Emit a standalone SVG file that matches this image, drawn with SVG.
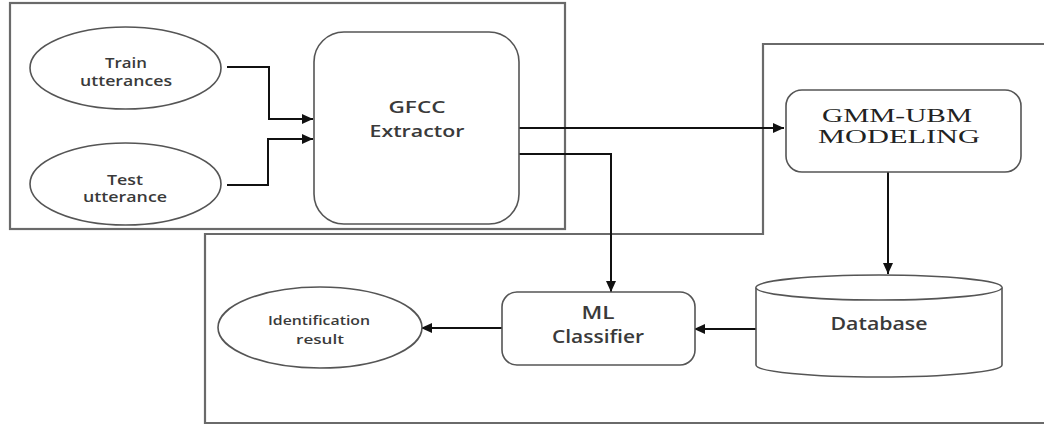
<svg xmlns="http://www.w3.org/2000/svg" width="1044" height="425" viewBox="0 0 1044 425">
<defs>
<style>
.frame{fill:none;stroke:#6a6a6a;stroke-width:2.2}
.shape{fill:#fff;stroke:#555;stroke-width:1.6}
.conn{fill:none;stroke:#111;stroke-width:2}
.t{font-family:"Open Sans","Liberation Sans",sans-serif;font-weight:600;fill:#3a3a3a;text-anchor:middle}
.tr{font-family:"Liberation Serif","Times New Roman",serif;fill:#222;text-anchor:middle}
</style>
<marker id="ah" markerUnits="userSpaceOnUse" markerWidth="12" markerHeight="10" refX="11" refY="5" orient="auto">
<path d="M0,0 L11,5 L0,10 Z" fill="#111"/>
</marker>
</defs>
<rect width="1044" height="425" fill="#fff"/>
<g id="frames">
<rect class="frame" x="10" y="3" width="555" height="226"/>
<polyline class="frame" points="1046,44 763,44 763,234 205,234 205,423 1046,423"/>
</g>
<g id="connectors">
<polyline class="conn" points="227,67 269,67 269,119 313,119" marker-end="url(#ah)"/>
<polyline class="conn" points="227,185 268,185 268,139 313,139" marker-end="url(#ah)"/>
<line class="conn" x1="519" y1="128" x2="784" y2="128" marker-end="url(#ah)"/>
<polyline class="conn" points="519,154 611,154 611,292" marker-end="url(#ah)"/>
<line class="conn" x1="888" y1="172" x2="888" y2="274" marker-end="url(#ah)"/>
<line class="conn" x1="756" y1="329" x2="694" y2="329" marker-end="url(#ah)"/>
<line class="conn" x1="502" y1="328" x2="421" y2="328" marker-end="url(#ah)"/>
</g>
<g id="train">
<ellipse class="shape" cx="125.5" cy="68" rx="95.5" ry="41"/>
<text class="t" x="126" y="68" font-size="14" textLength="42" lengthAdjust="spacingAndGlyphs">Train</text>
<text class="t" x="126" y="86" font-size="14" textLength="92" lengthAdjust="spacingAndGlyphs">utterances</text>
</g>
<g id="test">
<ellipse class="shape" cx="125.5" cy="184" rx="95.5" ry="41"/>
<text class="t" x="125" y="185" font-size="14" textLength="36" lengthAdjust="spacingAndGlyphs">Test</text>
<text class="t" x="125" y="202" font-size="14" textLength="84" lengthAdjust="spacingAndGlyphs">utterance</text>
</g>
<g id="gfcc">
<rect class="shape" x="314" y="32" width="205" height="192" rx="30" ry="30"/>
<text class="t" x="417" y="113" font-size="16.5" textLength="57" lengthAdjust="spacingAndGlyphs">GFCC</text>
<text class="t" x="417" y="137" font-size="16.5" textLength="95" lengthAdjust="spacingAndGlyphs">Extractor</text>
</g>
<g id="gmm">
<rect class="shape" x="786" y="90" width="235" height="82" rx="16" ry="16"/>
<text class="tr" x="897" y="122" font-size="18" textLength="150" lengthAdjust="spacingAndGlyphs">GMM-UBM</text>
<text class="tr" x="899" y="143" font-size="18" textLength="162" lengthAdjust="spacingAndGlyphs">MODELING</text>
</g>
<g id="database">
<path class="shape" d="M756,287.5 L756,365 A123,12 0 0 0 1002,365 L1002,287.5 A123,12.5 0 0 0 756,287.5 Z"/>
<path class="shape" fill="none" d="M756,287.5 A123,12.5 0 0 0 1002,287.5"/>
<text class="t" x="879" y="330" font-size="17.5" textLength="97" lengthAdjust="spacingAndGlyphs">Database</text>
</g>
<g id="ml">
<rect class="shape" x="502" y="292" width="193" height="73" rx="15" ry="15"/>
<text class="t" x="598" y="319" font-size="17.5" textLength="33" lengthAdjust="spacingAndGlyphs">ML</text>
<text class="t" x="598" y="343" font-size="17.5" textLength="92" lengthAdjust="spacingAndGlyphs">Classifier</text>
</g>
<g id="result">
<ellipse class="shape" cx="320" cy="327.5" rx="102" ry="40.5"/>
<text class="t" x="319" y="325" font-size="13" textLength="102" lengthAdjust="spacingAndGlyphs">Identification</text>
<text class="t" x="320" y="344" font-size="13" textLength="48" lengthAdjust="spacingAndGlyphs">result</text>
</g>
</svg>
